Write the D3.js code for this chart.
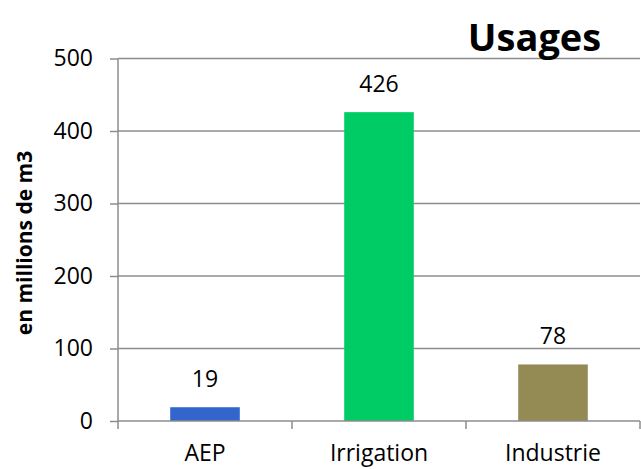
<!DOCTYPE html>
<html>
<head>
<meta charset="utf-8">
<script src="https://cdn.jsdelivr.net/npm/d3@7"></script>
<style>
  html, body { margin: 0; padding: 0; background: #fff; }
  svg { display: block; font-family: "Open Sans", sans-serif; }
</style>
</head>
<body>
<svg id="chart" width="641" height="469"></svg>
<script>
// Water usage by sector (millions of m3)
const categories = ["AEP", "Irrigation", "Industrie"];
const values = [19, 426, 78];
const barColors = ["#3366CC", "#00CC66", "#948A54"];
const yTicks = [0, 100, 200, 300, 400, 500];
const chartTitle = "Usages";
const yTitle = "en millions de m3";

const svg = d3.select("#chart");
const plotLeft = 118, plotRight = 640, plotTop = 58.5, plotBottom = 421;
const gridColor = "#8c8c8c";
const labelSize = 23;

const x = d3.scaleBand().domain(categories).range([plotLeft, plotRight]).padding(0);
const y = d3.scaleLinear().domain([0, 500]).range([plotBottom, plotTop]);

// horizontal gridlines
svg.append("g").selectAll("line").data(yTicks.filter(d => d > 0)).join("line")
  .attr("x1", plotLeft).attr("x2", plotRight)
  .attr("y1", d => y(d)).attr("y2", d => y(d))
  .attr("stroke", gridColor).attr("stroke-width", 1.5);

// bars
const barW = x.bandwidth() * 0.4;
svg.append("g").selectAll("rect").data(values).join("rect")
  .attr("x", (d, i) => x(categories[i]) + (x.bandwidth() - barW) / 2)
  .attr("y", d => y(d))
  .attr("width", barW)
  .attr("height", d => y(0) - y(d))
  .attr("fill", (d, i) => barColors[i]);

// value labels
svg.append("g").selectAll("text").data(values).join("text")
  .attr("x", (d, i) => x(categories[i]) + x.bandwidth() / 2)
  .attr("y", d => y(d) - 20)
  .attr("text-anchor", "middle")
  .attr("font-size", labelSize)
  .attr("fill", "#000")
  .text(d => d);

// y axis
const yAxis = svg.append("g").attr("transform", `translate(${plotLeft},0)`)
  .call(d3.axisLeft(y).tickValues(yTicks).tickSize(8).tickPadding(17));
yAxis.select(".domain").attr("stroke", gridColor).attr("stroke-width", 1.5)
  .attr("d", `M0,${plotTop}V${plotBottom}`);
yAxis.selectAll(".tick line").attr("stroke", gridColor).attr("stroke-width", 1.5);
yAxis.selectAll(".tick text").attr("font-size", labelSize).attr("fill", "#000")
  .attr("font-family", "'Open Sans', sans-serif");

// x axis
const xAxis = svg.append("g").attr("transform", `translate(0,${plotBottom})`);
xAxis.append("line").attr("x1", plotLeft).attr("x2", plotRight).attr("y1", 0).attr("y2", 0)
  .attr("stroke", gridColor).attr("stroke-width", 1.5);
const edges = categories.map(c => x(c)).concat([plotRight]);
xAxis.selectAll("line.tick").data(edges).join("line").attr("class", "tick")
  .attr("x1", d => d).attr("x2", d => d).attr("y1", 0).attr("y2", 8)
  .attr("stroke", gridColor).attr("stroke-width", 1.5);
xAxis.selectAll("text").data(categories).join("text")
  .attr("x", d => x(d) + x.bandwidth() / 2)
  .attr("y", 40)
  .attr("text-anchor", "middle")
  .attr("font-size", labelSize)
  .attr("fill", "#000")
  .text(d => d);

// axis title
svg.append("text")
  .attr("transform", `translate(32,243) rotate(-90)`)
  .attr("text-anchor", "middle")
  .attr("font-size", 21)
  .attr("font-weight", "bold")
  .attr("fill", "#000")
  .text(yTitle);

// chart title
svg.append("text")
  .attr("x", 534.5).attr("y", 51)
  .attr("text-anchor", "middle")
  .attr("font-size", 38)
  .attr("font-weight", "bold")
  .attr("fill", "#000")
  .text(chartTitle);
</script>
</body>
</html>
